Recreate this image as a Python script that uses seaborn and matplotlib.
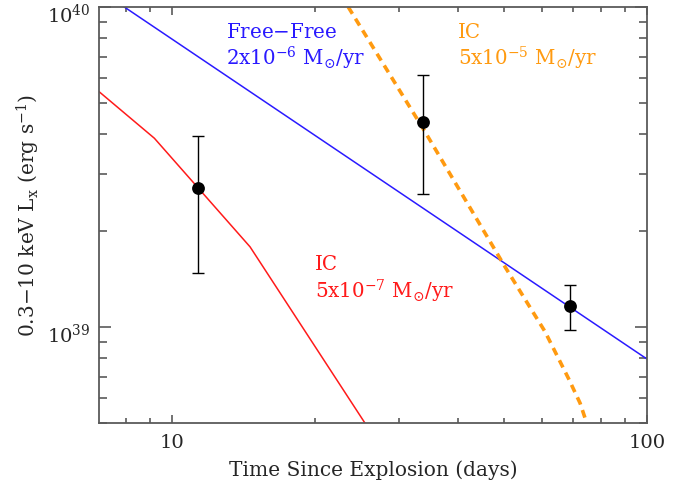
import numpy as np
import pandas as pd
import matplotlib
matplotlib.use("Agg")
import matplotlib.pyplot as plt
import matplotlib.transforms as mtransforms
import seaborn as sns

# ---- data ----
obs_days = [11.36, 33.8, 68.9]
obs_lx = [2.71e39, 4.38e39, 1.166e39]
obs_lx_hi = [3.95e39, 6.13e39, 1.35e39]
obs_lx_lo = [1.47e39, 2.61e39, 0.98e39]

ff_days = [7.0, 100.0]
ff_lx = [1.134e40, 7.94e38]

ic_low_days = [7.02, 9.18, 14.6, 25.5]
ic_low_lx = [5.44e39, 3.89e39, 1.78e39, 5.0e38]

ic_high_days = [23.5, 34.09, 50.23, 61.0, 68.3, 72.3, 74.1]
ic_high_lx = [1.0e40, 4.076e39, 1.543e39, 9.67e38, 6.92e38, 5.78e38, 5.18e38]

# ---- style ----
sns.set_style("ticks")
plt.rcParams["font.family"] = ["DejaVu Serif"]
plt.rcParams["mathtext.fontset"] = "dejavuserif"

fig = plt.figure(figsize=(6.88, 4.87), dpi=100)
ax = fig.add_axes([0.1439, 0.1308, 0.7965, 0.8548])

blue = "#2a1aff"
red = "#ff1a1a"
orange = "#ff9a10"

ff = pd.DataFrame({"t": ff_days, "L": ff_lx})
icl = pd.DataFrame({"t": ic_low_days, "L": ic_low_lx})
ich = pd.DataFrame({"t": ic_high_days, "L": ic_high_lx})
obs = pd.DataFrame({"t": obs_days, "L": obs_lx})

sns.lineplot(data=ff, x="t", y="L", ax=ax, color=blue, lw=1.1, sort=False)
sns.lineplot(data=icl, x="t", y="L", ax=ax, color=red, lw=1.1, sort=False)
sns.lineplot(data=ich, x="t", y="L", ax=ax, color=orange, lw=2.6, sort=False,
             dashes=False, linestyle=(0, (2.2, 1.6)))

yerr = [np.array(obs_lx) - np.array(obs_lx_lo), np.array(obs_lx_hi) - np.array(obs_lx)]
ax.errorbar(obs_days, obs_lx, yerr=yerr, fmt="none", ecolor="black",
            elinewidth=1.0, capsize=4, capthick=1.0, zorder=4)
sns.scatterplot(data=obs, x="t", y="L", ax=ax, color="black", s=85,
                edgecolor="black", linewidth=0, zorder=5)

ax.set_xscale("log")
ax.set_yscale("log")
ax.set_xlim(7.02, 100)
ax.set_ylim(5.0e38, 1.0e40)

ax.set_xticks([10, 100])
ax.set_xticklabels(["10", "100"])
ax.set_yticks([1e39, 1e40])
ax.set_yticklabels([r"$10^{39}$", r"$10^{40}$"])
ax.xaxis.set_minor_locator(matplotlib.ticker.LogLocator(base=10, subs=np.arange(2, 10)))
ax.yaxis.set_minor_locator(matplotlib.ticker.LogLocator(base=10, subs=np.arange(2, 10)))
ax.xaxis.set_minor_formatter(matplotlib.ticker.NullFormatter())
ax.yaxis.set_minor_formatter(matplotlib.ticker.NullFormatter())

spine_col = "#5a5a5a"
for s in ax.spines.values():
    s.set_visible(True)
    s.set_color(spine_col)
    s.set_linewidth(1.3)

ax.tick_params(axis="both", which="both", direction="in", top=True, right=True,
               color=spine_col, labelsize=14, width=1.2)
ax.tick_params(axis="x", which="major", length=6, pad=8)
ax.tick_params(axis="x", which="minor", length=3.6)
ax.tick_params(axis="y", which="major", length=8.5, pad=6)
ax.tick_params(axis="y", which="minor", length=6)

# shift y tick labels down a little (baseline-aligned look of reference)
offset = mtransforms.ScaledTranslation(0, -6 / 100, fig.dpi_scale_trans)
for lbl in ax.get_yticklabels():
    lbl.set_transform(lbl.get_transform() + offset)

ax.set_xlabel("Time Since Explosion (days)", fontsize=14.5, labelpad=6)
ax.set_ylabel(r"0.3$-$10 keV L$_{\rm x}$ (erg s$^{-1}$)", fontsize=14.5, labelpad=4)

tfs = 14.3
fig.text(226 / 688, 1 - 32 / 487, "Free$-$Free", color=blue, fontsize=tfs, va="center")
fig.text(226 / 688, 1 - 58 / 487, r"2x10$^{-6}$ M$_{\odot}$/yr", color=blue, fontsize=tfs, va="center")
fig.text(458 / 688, 1 - 32 / 487, "IC", color=orange, fontsize=tfs, va="center")
fig.text(458 / 688, 1 - 58 / 487, r"5x10$^{-5}$ M$_{\odot}$/yr", color=orange, fontsize=tfs, va="center")
fig.text(315 / 688, 1 - 265 / 487, "IC", color=red, fontsize=tfs, va="center")
fig.text(315 / 688, 1 - 291 / 487, r"5x10$^{-7}$ M$_{\odot}$/yr", color=red, fontsize=tfs, va="center")

fig.savefig("out.png", dpi=100)
